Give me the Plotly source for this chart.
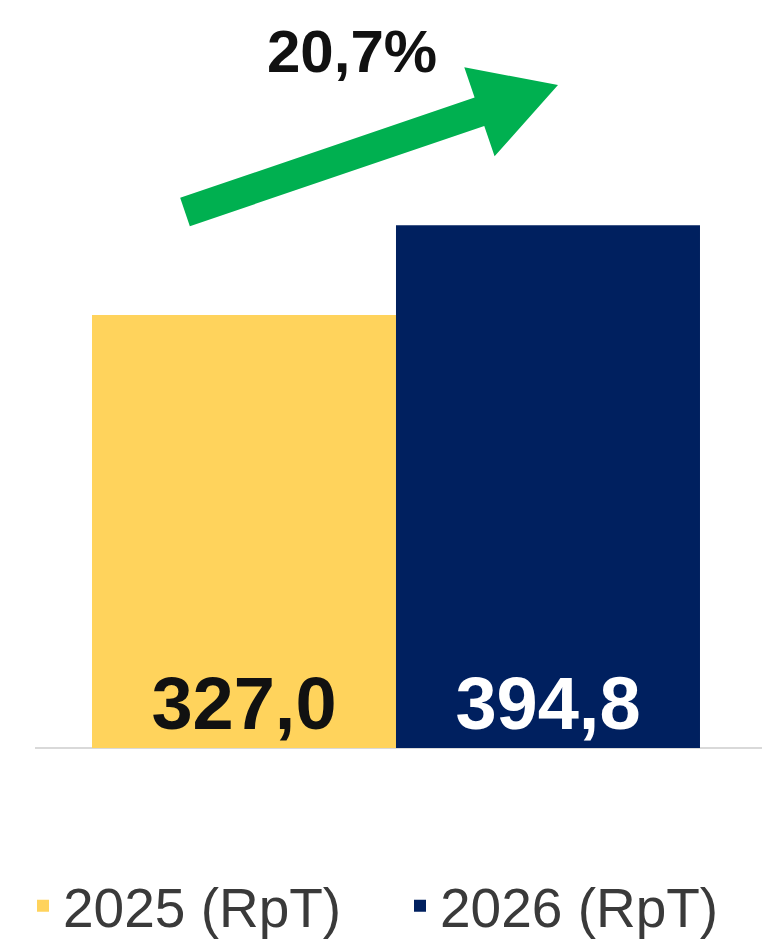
import math
import plotly.graph_objects as go

# ---- data ----
series_names = ["2025 (RpT)", "2026 (RpT)"]
values = [327.0, 394.8]
growth_pct = [20.7]
category = ["Total"]

colors = ["#FFD35C", "#00205F"]
text_colors = ["#111111", "#FFFFFF"]

W, H = 762, 946
ML, MR, MT, MB = 35, 0, 0, 198
PW, PH = W - ML - MR, H - MT - MB

BOLD = "Liberation Sans, Arial, sans-serif"
legend_ids = ["legend", "legend2"]
legend_left_px = [23, 400]

fig = go.Figure()
for name, v, c, tc, lg in zip(series_names, values, colors, text_colors, legend_ids):
    fig.add_trace(go.Bar(
        name=name, x=category, y=[v], legend=lg,
        marker=dict(color=c, line=dict(width=0)),
        texttemplate="%{y:.1f}", textposition="inside", insidetextanchor="start",
        textfont=dict(family=BOLD, size=74, color=tc, weight="bold"),
        insidetextfont=dict(family=BOLD, size=74, color=tc, weight="bold"),
        hoverinfo="skip",
    ))

# pixel -> paper helpers (decoration only)
def px(x):
    return (x - ML) / PW
def py(y):
    return (H - MB - y) / PH

# green arrow polygon
tail = (185, 212)
tip = (558, 85)
shaft_half, head_half, head_len = 15, 47, 83
dx, dy = tip[0] - tail[0], tip[1] - tail[1]
L = math.hypot(dx, dy)
ux, uy = dx / L, dy / L
nx, ny = -uy, ux
bx, by = tip[0] - ux * head_len, tip[1] - uy * head_len
pts = [
    (tail[0] + nx * shaft_half, tail[1] + ny * shaft_half),
    (bx + nx * shaft_half, by + ny * shaft_half),
    (bx + nx * head_half, by + ny * head_half),
    tip,
    (bx - nx * head_half, by - ny * head_half),
    (bx - nx * shaft_half, by - ny * shaft_half),
    (tail[0] - nx * shaft_half, tail[1] - ny * shaft_half),
]
path = "M " + " L ".join(f"{px(a):.5f},{py(b):.5f}" for a, b in pts) + " Z"
fig.add_shape(type="path", path=path, xref="paper", yref="paper",
              fillcolor="#00B050", line=dict(width=0), layer="above")

fig.add_annotation(
    text=f"{growth_pct[0]:.1f}%".replace(".", ","), xref="paper", yref="paper",
    x=px(352), y=py(52), xanchor="center", yanchor="middle", showarrow=False,
    font=dict(family=BOLD, size=60, color="#111111", weight="bold"),
)

legend_common = dict(
    orientation="h", xref="container", yref="container",
    y=(H - 906) / H, xanchor="left", yanchor="middle",
    font=dict(family="Liberation Sans, Arial, sans-serif", size=55, color="#3A3A3A"),
    itemclick=False, itemdoubleclick=False,
    bgcolor="rgba(0,0,0,0)",
)

fig.update_layout(
    width=W, height=H,
    margin=dict(l=ML, r=MR, t=MT, b=MB, pad=0),
    paper_bgcolor="white", plot_bgcolor="white",
    barmode="group", bargap=0.2, bargroupgap=0,
    separators=",.",
    showlegend=True,
    legend=dict(x=legend_left_px[0] / W, **legend_common),
    legend2=dict(x=legend_left_px[1] / W, **legend_common),
    xaxis=dict(range=[-0.475, 0.4816], showticklabels=False, showgrid=False,
               zeroline=False, showline=False, fixedrange=True),
    yaxis=dict(range=[0, PH / (433 / 327.0)], showticklabels=False, showgrid=False,
               zeroline=True, zerolinecolor="#D9D9D9", zerolinewidth=2,
               showline=False, fixedrange=True),
)

fig.write_html("out.html", config={"displayModeBar": False},
               post_script="document.body.style.margin='0';document.body.style.padding='0';document.body.style.overflow='hidden';")
